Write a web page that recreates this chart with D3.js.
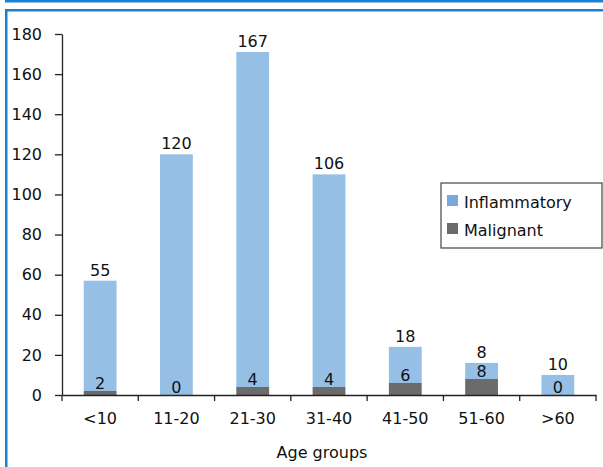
<!DOCTYPE html>
<html>
<head>
<meta charset="utf-8">
<style>
  body { margin: 0; background: #fff; }
  svg { display: block; font-family: 'DejaVu Sans', sans-serif; }
</style>
</head>
<body>
<svg width="603" height="467"></svg>
<script src="https://d3js.org/d3.v7.min.js"></script>
<script>
// data
let ageGroups = ["<10", "11-20", "21-30", "31-40", "41-50", "51-60", ">60"]
let inflammatory = [55, 120, 167, 106, 18, 8, 10]
let malignant = [2, 0, 4, 4, 6, 8, 0]
let yTicks = [0, 20, 40, 60, 80, 100, 120, 140, 160, 180]

let svg = d3.select("svg")
let margin = { top: 34, right: 6, bottom: 72, left: 62 }
let width = 603, height = 467
let fs = 16

// frame decoration
svg.append("rect").attr("x", 5).attr("y", 0).attr("width", 598).attr("height", 2.5).attr("fill", "#1a80d0")
svg.append("rect").attr("x", 5).attr("y", 9).attr("width", 598).attr("height", 2.5).attr("fill", "#1a80d0")
svg.append("rect").attr("x", 5).attr("y", 9).attr("width", 2.5).attr("height", 458).attr("fill", "#1a80d0")

let x = d3.scaleBand()
    .domain(ageGroups)
    .range([margin.left, width - margin.right - 1])
    .paddingInner(0.57)
    .paddingOuter(0.285)

let y = d3.scaleLinear()
    .domain([0, 180])
    .range([height - margin.bottom, margin.top])

let rows = ageGroups.map((g, i) => ({ group: g, inf: inflammatory[i], mal: malignant[i] }))

// bars: malignant at bottom, inflammatory stacked on top
svg.append("g").selectAll("rect")
    .data(rows)
    .join("rect")
    .attr("x", d => x(d.group))
    .attr("width", x.bandwidth())
    .attr("y", d => y(d.mal + d.inf))
    .attr("height", d => y(d.mal) - y(d.mal + d.inf))
    .attr("fill", "#96bfe6")

svg.append("g").selectAll("rect")
    .data(rows)
    .join("rect")
    .attr("x", d => x(d.group))
    .attr("width", x.bandwidth())
    .attr("y", d => y(d.mal))
    .attr("height", d => y(0) - y(d.mal))
    .attr("fill", "#6b6b6b")

// value labels
svg.append("g").selectAll("text")
    .data(rows)
    .join("text")
    .attr("x", d => x(d.group) + x.bandwidth() / 2)
    .attr("y", d => y(d.mal + d.inf) - 5)
    .attr("text-anchor", "middle")
    .attr("font-size", fs)
    .attr("fill", "#111")
    .text(d => d.inf)

svg.append("g").selectAll("text")
    .data(rows)
    .join("text")
    .attr("x", d => x(d.group) + x.bandwidth() / 2)
    .attr("y", d => y(d.mal) - 2)
    .attr("text-anchor", "middle")
    .attr("font-size", fs)
    .attr("fill", "#111")
    .text(d => d.mal)

// axes
let yAxis = svg.append("g")
    .attr("transform", `translate(${margin.left},0)`)
    .call(d3.axisLeft(y).tickValues(yTicks).tickSize(7).tickPadding(13).tickSizeOuter(0))
yAxis.selectAll("text").attr("font-size", fs).attr("fill", "#111").attr("font-family", "'DejaVu Sans', sans-serif")
yAxis.selectAll("line, path").attr("stroke", "#222").attr("stroke-width", 1.3)

let xAxis = svg.append("g")
    .attr("transform", `translate(0,${y(0)})`)
    .call(d3.axisBottom(x).tickSize(0).tickPadding(18).tickSizeOuter(0))
xAxis.selectAll("text").attr("font-size", fs).attr("fill", "#111").attr("font-family", "'DejaVu Sans', sans-serif")
xAxis.select("path").attr("stroke", "#222").attr("stroke-width", 1.3)

// category boundary ticks
let bounds = d3.range(ageGroups.length + 1).map(i => margin.left + i * x.step())
svg.append("g").selectAll("line")
    .data(bounds)
    .join("line")
    .attr("x1", d => d).attr("x2", d => d)
    .attr("y1", y(0)).attr("y2", y(0) + 6)
    .attr("stroke", "#222").attr("stroke-width", 1.3)

svg.append("text")
    .attr("x", 322)
    .attr("y", 458)
    .attr("text-anchor", "middle")
    .attr("font-size", fs)
    .attr("fill", "#111")
    .text("Age groups")

// legend
let legend = svg.append("g").attr("transform", "translate(441,183)")
legend.append("rect").attr("width", 161).attr("height", 65)
    .attr("fill", "#fff").attr("stroke", "#444").attr("stroke-width", 1.2)
let items = [["Inflammatory", "#78a8dc"], ["Malignant", "#6b6b6b"]]
items.forEach((it, i) => {
    legend.append("rect").attr("x", 6).attr("y", 12 + i * 28).attr("width", 11).attr("height", 11).attr("fill", it[1])
    legend.append("text").attr("x", 23).attr("y", 25 + i * 28)
        .attr("font-size", fs).attr("fill", "#111").text(it[0])
})
</script>
</body>
</html>
